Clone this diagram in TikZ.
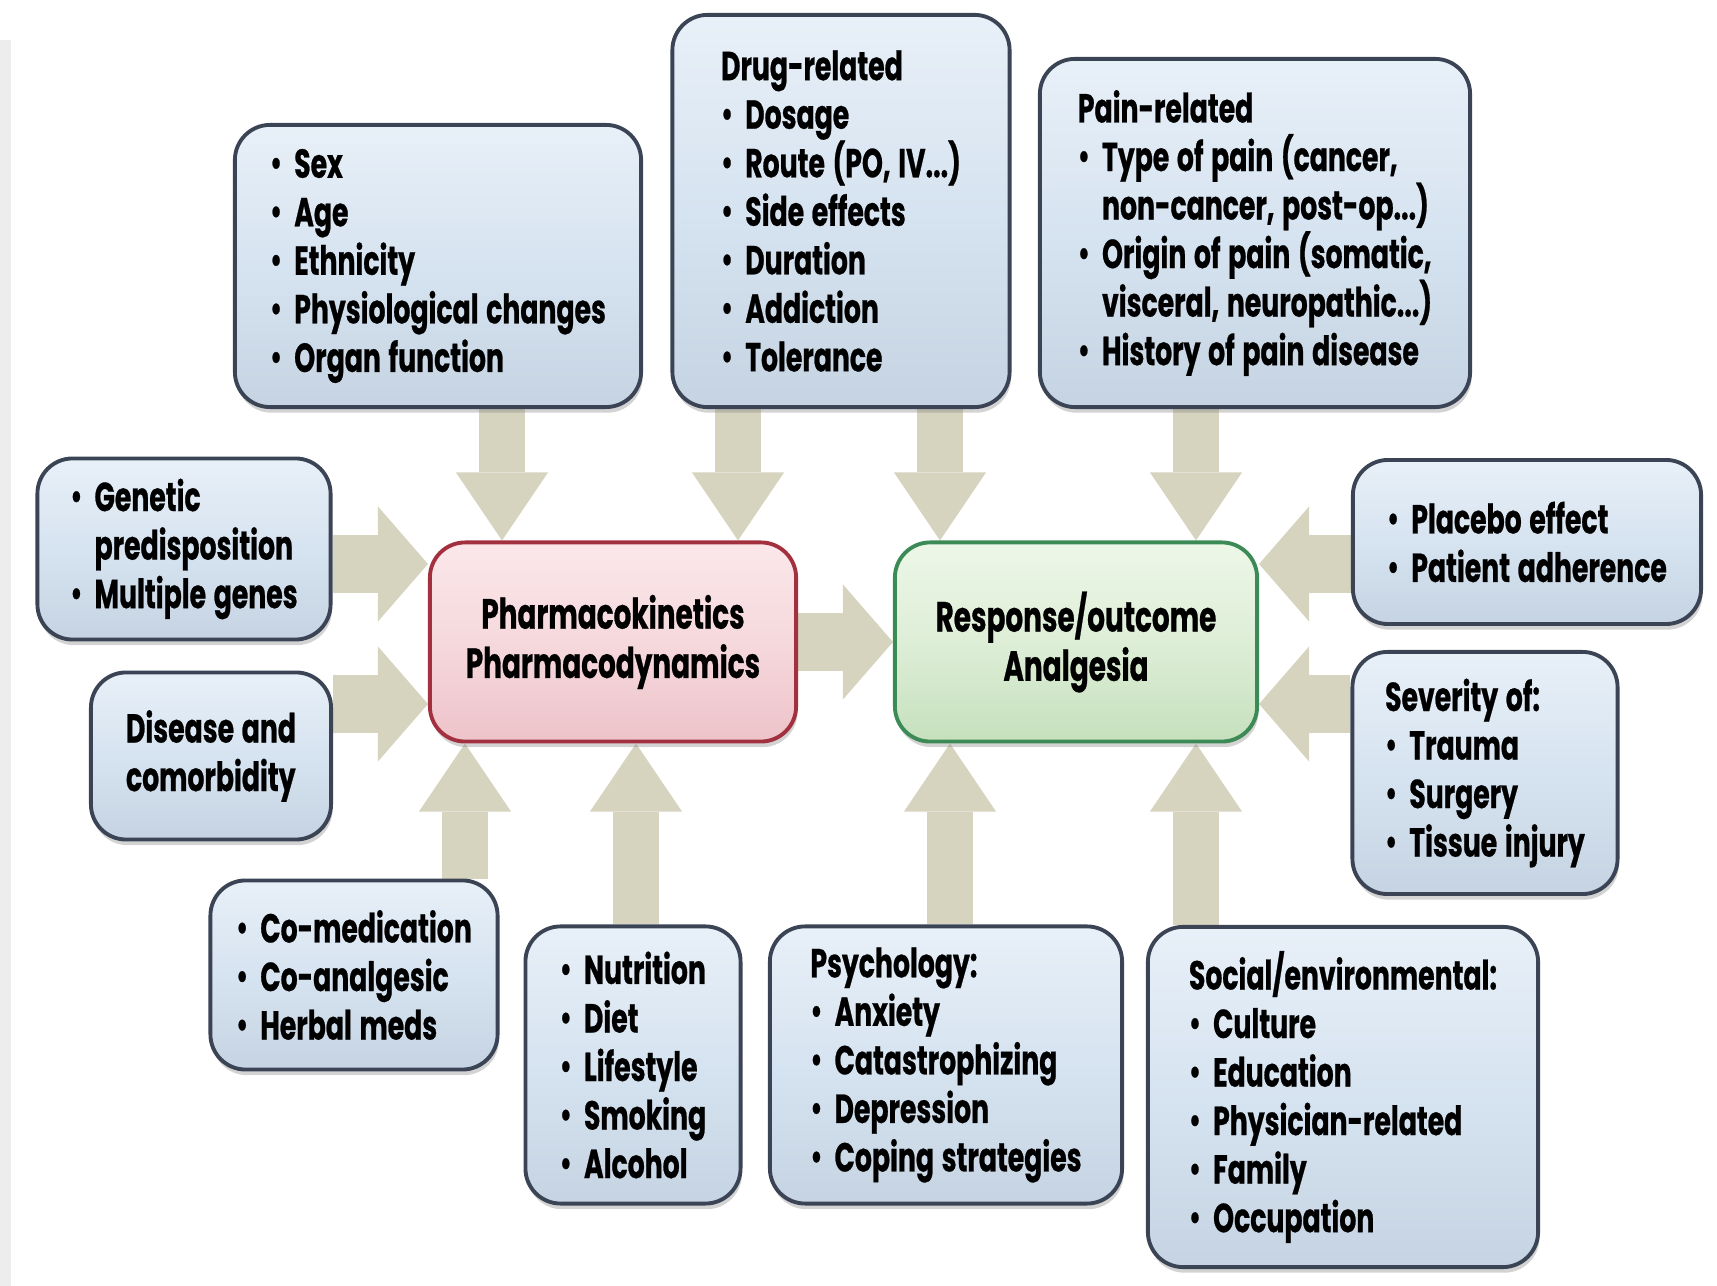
\documentclass[tikz,border=0pt]{standalone}
\usepackage{fontspec}
\setmainfont{Poppins}[FakeStretch=0.66,WordSpace=1.35,BoldFeatures={FakeBold=0.6}]
\usetikzlibrary{arrows.meta,shadows,backgrounds}
\definecolor{flowbeige}{HTML}{D6D4BE}
\definecolor{boxedge}{HTML}{3A4454}
\definecolor{bluetop}{HTML}{E8F0F8}
\definecolor{bluemid}{HTML}{D6E3F0}
\definecolor{bluebot}{HTML}{C6D3E2}
\definecolor{pinktop}{HTML}{FBE7EA}
\definecolor{pinkbot}{HTML}{EDC3C9}
\definecolor{pinkedge}{HTML}{A3303F}
\definecolor{greentop}{HTML}{EDF7E8}
\definecolor{greenbot}{HTML}{C6E0BD}
\definecolor{greenedge}{HTML}{3C8A55}
\newcommand{\bul}{\raisebox{0.1ex}{\scalebox{0.9}{\textbullet}}\hspace{0.3em}}
\newcommand{\ind}{\hphantom{\bul}}
\tikzset{
	factor/.style={draw=boxedge, line width=1.1pt, rounded corners=10pt,
		top color=bluetop, bottom color=bluebot, middle color=bluemid,
		drop shadow={opacity=0.35, shadow xshift=0.4pt, shadow yshift=-1.6pt},
		align=left, inner sep=0pt,
		font=\bfseries\fontsize{11.5}{13.8}\selectfont},
	pkstyle/.style={factor, draw=pinkedge, top color=pinktop, bottom color=pinkbot, middle color=pinktop!60!pinkbot, align=center,
		font=\bfseries\fontsize{12}{14}\selectfont},
	outstyle/.style={factor, draw=greenedge, top color=greentop, bottom color=greenbot, middle color=greentop!60!greenbot, align=center,
		font=\bfseries\fontsize{12}{14}\selectfont},
	vflow/.style={draw=flowbeige, line width=0.46cm, -{Triangle[width=0.92cm,length=0.68cm,line width=0pt]}},
	hflow/.style={draw=flowbeige, line width=0.58cm, -{Triangle[width=1.15cm,length=0.5cm,line width=0pt]}}
}
\begin{document}
\begin{tikzpicture}[x=0.01cm,y=-0.01cm]
	\useasboundingbox (0,0) rectangle (1717,1286);
	\fill [gray!14] (0,40) rectangle (11,1286);
	\node [factor,minimum width=4.06cm,minimum height=2.82cm] (sexbox) at (438,266)
		{\bul Sex\\ \bul Age\\ \bul Ethnicity\\ \bul Physiological changes\\ \bul Organ function};
	\node [factor,minimum width=3.37cm,minimum height=3.92cm] (drugbox) at (841,211)
		{Drug-related\\ \bul Dosage\\ \bul Route (PO, IV...)\\ \bul Side effects\\ \bul Duration\\ \bul Addiction\\ \bul Tolerance};
	\node [factor,minimum width=4.30cm,minimum height=3.48cm] (painbox) at (1255,233)
		{Pain-related\\ \bul Type of pain (cancer,\\ \ind non-cancer, post-op...)\\ \bul Origin of pain (somatic,\\ \ind visceral, neuropathic...)\\ \bul History of pain disease};
	\node [factor,minimum width=2.93cm,minimum height=1.81cm] (genebox) at (184,549)
		{\bul Genetic\\ \ind predisposition\\ \bul Multiple genes};
	\node [factor,minimum width=2.40cm,minimum height=1.67cm] (diseasebox) at (211,756)
		{Disease and\\ comorbidity};
	\node [pkstyle,minimum width=3.66cm,minimum height=1.99cm] (pkbox) at (613,642)
		{Pharmacokinetics\\ Pharmacodynamics};
	\node [outstyle,minimum width=3.62cm,minimum height=1.99cm] (outbox) at (1076,642)
		{Response/outcome\\ Analgesia};
	\node [factor,minimum width=3.48cm,minimum height=1.64cm] (placebobox) at (1527,542)
		{\bul Placebo effect\\ \bul Patient adherence};
	\node [factor,minimum width=2.65cm,minimum height=2.42cm] (severitybox) at (1485,773)
		{Severity of:\\ \bul Trauma\\ \bul Surgery\\ \bul Tissue injury};
	\node [factor,minimum width=2.87cm,minimum height=1.89cm] (comedbox) at (354,975)
		{\bul Co-medication\\ \bul Co-analgesic\\ \bul Herbal meds};
	\node [factor,minimum width=2.15cm,minimum height=2.77cm] (nutribox) at (633,1065)
		{\bul Nutrition\\ \bul Diet\\ \bul Lifestyle\\ \bul Smoking\\ \bul Alcohol};
	\node [factor,minimum width=3.52cm,minimum height=2.77cm] (psychbox) at (946,1065)
		{Psychology:\\ \bul Anxiety\\ \bul Catastrophizing\\ \bul Depression\\ \bul Coping strategies};
	\node [factor,minimum width=3.90cm,minimum height=3.40cm] (socialbox) at (1343,1097)
		{Social/environmental:\\ \bul Culture\\ \bul Education\\ \bul Physician-related\\ \bul Family\\ \bul Occupation};
	\coordinate (c1) at (502,0);
	\coordinate (c2) at (738,0);
	\coordinate (c3) at (940,0);
	\coordinate (c4) at (1196,0);
	\coordinate (c5) at (465,0);
	\coordinate (c6) at (636,0);
	\coordinate (c7) at (950,0);
	\coordinate (r1) at (0,564);
	\coordinate (r2) at (0,704);
	\begin{scope}[on background layer]
	\draw [vflow] (sexbox.south -| c1) -- (pkbox.north -| c1);
	\draw [vflow] (drugbox.south -| c2) -- (pkbox.north -| c2);
	\draw [vflow] (drugbox.south -| c3) -- (outbox.north -| c3);
	\draw [vflow] (painbox.south -| c4) -- (outbox.north -| c4);
	\draw [vflow] (comedbox.north -| c5) -- (pkbox.south -| c5);
	\draw [vflow] (nutribox.north -| c6) -- (pkbox.south -| c6);
	\draw [vflow] (psychbox.north -| c7) -- (outbox.south -| c7);
	\draw [vflow] (socialbox.north -| c4) -- (outbox.south -| c4);
	\draw [hflow] (genebox.east |- r1) -- (pkbox.west |- r1);
	\draw [hflow] (diseasebox.east |- r2) -- (pkbox.west |- r2);
	\draw [hflow] (pkbox.east) -- (outbox.west);
	\draw [hflow] (placebobox.west |- r1) -- (outbox.east |- r1);
	\draw [hflow] (severitybox.west |- r2) -- (outbox.east |- r2);
	\end{scope}
\end{tikzpicture}
\end{document}
